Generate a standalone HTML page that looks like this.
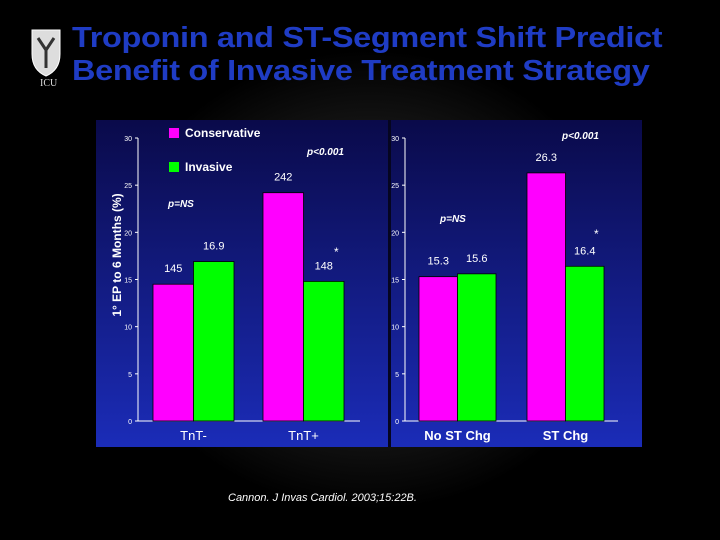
<!DOCTYPE html>
<html><head><meta charset="utf-8"><style>
body{margin:0;width:720px;height:540px;overflow:hidden;background:#000;font-family:"Liberation Sans",sans-serif;}
#bg{position:absolute;left:0;top:0;width:720px;height:540px;background:radial-gradient(ellipse 260px 230px at 370px 280px,#3a3a3a 0%,#1a1a1a 55%,#000 100%);}
.title{position:absolute;left:72px;color:#1f3cc4;font-weight:bold;font-size:29px;white-space:nowrap;letter-spacing:-0.3px;transform:scaleX(1.12);transform-origin:left;}
</style></head><body>
<div id="bg"></div>
<svg style="position:absolute;left:28px;top:28px" width="40" height="62">
<path d="M4 2 H32 V26 Q32 42 18 48 Q4 42 4 26 Z" fill="#ddd" stroke="#fff"/>
<path d="M10 10 L18 22 L26 10 M18 22 V40" stroke="#333" stroke-width="3" fill="none"/>
<text x="12" y="58" fill="#ddd" font-size="10" font-family="Liberation Serif">ICU</text>
</svg>
<div class="title" style="top:22px">Troponin and ST-Segment Shift Predict</div>
<div class="title" style="top:55px">Benefit of Invasive Treatment Strategy</div>
<svg id="chart" style="position:absolute;left:0;top:0" width="720" height="540">
<defs><linearGradient id="bl" x1="0" y1="0" x2="0" y2="1"><stop offset="0" stop-color="#0a0a4a"/><stop offset="1" stop-color="#1b2cb8"/></linearGradient></defs>
<rect x="96" y="120" width="546" height="327" fill="url(#bl)"/>
<rect x="388" y="120" width="3" height="327" fill="#050520"/>
<g id="g"></g>
<text x="0" y="0" transform="translate(121,255) rotate(-90)" text-anchor="middle" fill="#fff" font-weight="bold" font-size="12">1° EP to 6 Months (%)</text>
<rect x="169" y="128" width="10" height="10" fill="#ff00ff"/>
<text x="185" y="137" fill="#fff" font-weight="bold" font-size="12">Conservative</text>
<rect x="169" y="162" width="10" height="10" fill="#00ff00"/>
<text x="185" y="171" fill="#fff" font-weight="bold" font-size="12">Invasive</text>
<text x="168" y="207" fill="#fff" font-weight="bold" font-style="italic" font-size="10">p=NS</text>
<text x="307" y="155" fill="#fff" font-weight="bold" font-style="italic" font-size="10">p&lt;0.001</text>
<text x="334" y="256" fill="#fff" font-size="12">*</text>
<text x="440" y="222" fill="#fff" font-weight="bold" font-style="italic" font-size="10">p=NS</text>
<text x="562" y="139" fill="#fff" font-weight="bold" font-style="italic" font-size="10">p&lt;0.001</text>
<text x="594" y="238" fill="#fff" font-size="12">*</text>
<text x="228" y="501" fill="#fff" font-style="italic" font-size="11">Cannon. J Invas Cardiol. 2003;15:22B.</text>
</svg>
<script>
const yTicks=[0,5,10,15,20,25,30];
const leftCats=["TnT-","TnT+"];
const leftCons=[14.5,24.2];
const leftInv=[16.9,14.8];
const leftLabelsCons=["145","242"];
const leftLabelsInv=["16.9","148"];
const rightCats=["No ST Chg","ST Chg"];
const rightCons=[15.3,26.3];
const rightInv=[15.6,16.4];
const rightLabelsCons=["15.3","26.3"];
const rightLabelsInv=["15.6","16.4"];
const NS="http://www.w3.org/2000/svg";
const g=document.getElementById('g');
function y(v){return 421-v*(283/30);}
function mk(t,a){const e=document.createElementNS(NS,t);for(const k in a)e.setAttribute(k,a[k]);g.appendChild(e);return e;}
function panel(p,ax,x1,starts,bw,cats,cons,inv,lc,li){
 let e=mk('line',{x1:ax,y1:y(30),x2:ax,y2:y(0),stroke:'#fff','stroke-width':1});
 
 
 e=mk('line',{x1:ax,y1:y(0),x2:x1,y2:y(0),stroke:'#fff','stroke-width':1});
 
 
 yTicks.forEach(t=>{
  let l=mk('line',{x1:ax-3,y1:y(t),x2:ax,y2:y(t),stroke:'#fff'});
  
  
  let tx=mk('text',{x:ax-6,y:y(t)+3,fill:'#fff','font-size':7,'text-anchor':'end'});
  tx.textContent=t;
  
  
 });
 cats.forEach((c,i)=>{
  const s=starts[i];
  [[cons[i],'#ff00ff',s,lc[i],'conservative'],[inv[i],'#00ff00',s+bw,li[i],'invasive']].forEach(([v,col,x,lab,nm])=>{
   let r=mk('rect',{x:x,y:y(v),width:bw,height:y(0)-y(v),fill:col,stroke:'#000','stroke-width':0.8});
   
   
   let t=mk('text',{x:x+bw/2,y:y(v)-12,fill:'#fff','font-size':11,'text-anchor':'middle'});
   t.textContent=lab;
   
   
  });
  let t=mk('text',{x:s+bw,y:440,fill:'#fff','font-size':13,'text-anchor':'middle','font-weight':p==='right'?'bold':'normal'});
  t.textContent=c;
  
  
 });
}
panel('left',138,360,[153,263],40.5,leftCats,leftCons,leftInv,leftLabelsCons,leftLabelsInv);
panel('right',405,618,[419,527],38.5,rightCats,rightCons,rightInv,rightLabelsCons,rightLabelsInv);
</script>
</body></html>
